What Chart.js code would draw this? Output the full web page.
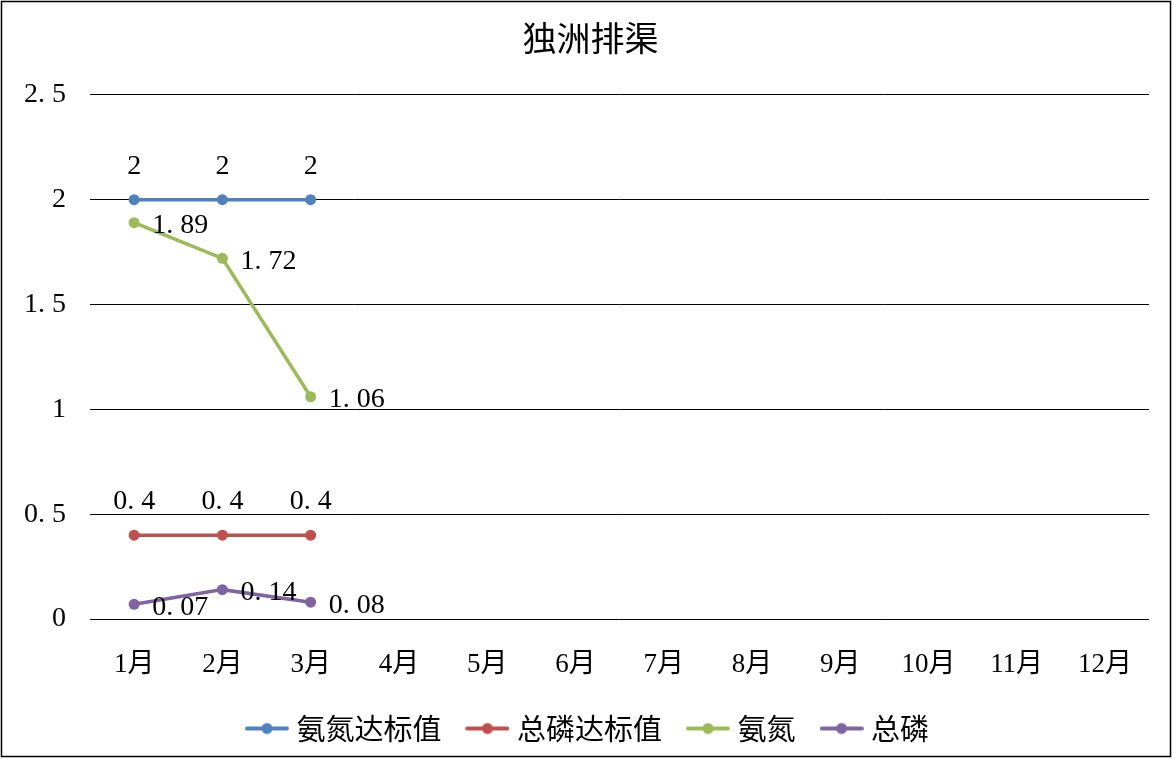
<!DOCTYPE html>
<html>
<head>
<meta charset="utf-8">
<script src="https://cdn.jsdelivr.net/npm/chart.js@4/dist/chart.umd.min.js"></script>
<style>
html,body{margin:0;padding:0;background:#fff;}
#wrap{width:1173px;height:759px;position:relative;}
</style>
</head>
<body>
<div id="wrap"><canvas id="c" width="1173" height="759"></canvas></div>
<script>
const title = '独洲排渠';
const categories = ['1月','2月','3月','4月','5月','6月','7月','8月','9月','10月','11月','12月'];
const seriesNames = ['氨氮达标值','总磷达标值','氨氮','总磷'];
const nh3Standard = [2, 2, 2];
const tpStandard = [0.4, 0.4, 0.4];
const nh3 = [1.89, 1.72, 1.06];
const tp = [0.07, 0.14, 0.08];
const yTicks = [0, 0.5, 1, 1.5, 2, 2.5];

const colors = ['#4F81BD', '#C0504D', '#9BBB59', '#8064A2'];
const labelPos = ['top', 'top', 'right', 'right'];
const FONT = '"Liberation Serif", "Noto Sans CJK SC", serif';

function fmt(v) { return String(v).replace('.', '. '); }

function legendImage(color) {
  const c = document.createElement('canvas');
  c.width = 44; c.height = 14;
  const x = c.getContext('2d');
  x.strokeStyle = color; x.lineWidth = 4; x.lineCap = 'round';
  x.beginPath(); x.moveTo(2, 7); x.lineTo(42, 7); x.stroke();
  x.fillStyle = color; x.beginPath(); x.arc(22, 7, 5.5, 0, Math.PI * 2); x.fill();
  return c;
}

const dataLabels = {
  id: 'dataLabels',
  afterDatasetsDraw(chart) {
    const ctx = chart.ctx;
    ctx.save();
    ctx.font = '28px ' + FONT;
    ctx.fillStyle = '#000';
    chart.data.datasets.forEach((ds, i) => {
      const meta = chart.getDatasetMeta(i);
      meta.data.forEach((pt, j) => {
        const v = ds.data[j];
        if (v == null) return;
        const t = fmt(v);
        if (labelPos[i] === 'top') {
          ctx.textAlign = 'center'; ctx.textBaseline = 'middle';
          ctx.fillText(t, pt.x, pt.y - 33);
        } else {
          ctx.textAlign = 'left'; ctx.textBaseline = 'middle';
          ctx.fillText(t, pt.x + 18, pt.y + 3);
        }
      });
    });
    ctx.restore();
  }
};

const widenYAxis = {
  id: 'widenYAxis',
  afterLayout(chart) {
    const y = chart.scales.y;
    y.left = 0;
    y.width = y.right;
  }
};

const frame = {
  id: 'frame',
  afterDraw(chart) {
    const ctx = chart.ctx;
    ctx.save();
    ctx.strokeStyle = '#000'; ctx.lineWidth = 1.5;
    ctx.strokeRect(1.5, 1.5, 1169, 755);
    ctx.restore();
  }
};

const seriesData = [nh3Standard, tpStandard, nh3, tp];
const datasets = seriesNames.map((n, i) => ({
  label: n,
  data: seriesData[i],
  borderColor: colors[i],
  backgroundColor: colors[i],
  borderWidth: 3.5,
  pointRadius: 5.5,
  pointHoverRadius: 5.5,
  pointBorderWidth: 0,
  pointStyle: 'circle',
  tension: 0,
  fill: false
}));

new Chart(document.getElementById('c'), {
  type: 'line',
  data: { labels: categories, datasets },
  plugins: [dataLabels, widenYAxis, frame],
  options: {
    responsive: false,
    animation: false,
    devicePixelRatio: 1,
    layout: { padding: { left: 32, right: 24, top: 0, bottom: 6 } },
    plugins: {
      title: {
        display: true, text: title, color: '#000',
        font: { family: '"Noto Sans CJK SC", sans-serif', size: 34, weight: 'normal' },
        padding: { top: 18, bottom: 36 }
      },
      legend: {
        position: 'bottom',
        labels: {
          color: '#000',
          font: { family: '"Noto Sans CJK SC", sans-serif', size: 29 },
          usePointStyle: true,
          pointStyleWidth: 30,
          padding: 31,
          generateLabels(chart) {
            return chart.data.datasets.map((d, i) => ({
              text: d.label, fillStyle: colors[i], strokeStyle: colors[i],
              lineWidth: 0, pointStyle: legendImage(colors[i]), datasetIndex: i, hidden: false
            }));
          }
        }
      },
      tooltip: { enabled: false }
    },
    scales: {
      x: {
        offset: true,
        grid: { display: false, drawTicks: false },
        border: { display: false },
        ticks: { color: '#000', font: { family: FONT, size: 27 }, padding: 30, maxRotation: 0, autoSkip: false },
        afterFit(s) { s.height = 64; }
      },
      y: {
        min: 0, max: 2.5,
        afterBuildTicks(s) { s.ticks = yTicks.map(v => ({ value: v })); },
        grid: { color: '#000', lineWidth: 1, drawTicks: false },
        border: { display: false },
        ticks: { color: '#000', font: { family: FONT, size: 28 }, padding: 24, callback: v => fmt(v) },
        afterFit(s) { s.width = 58; }
      }
    }
  }
});
</script>
</body>
</html>
